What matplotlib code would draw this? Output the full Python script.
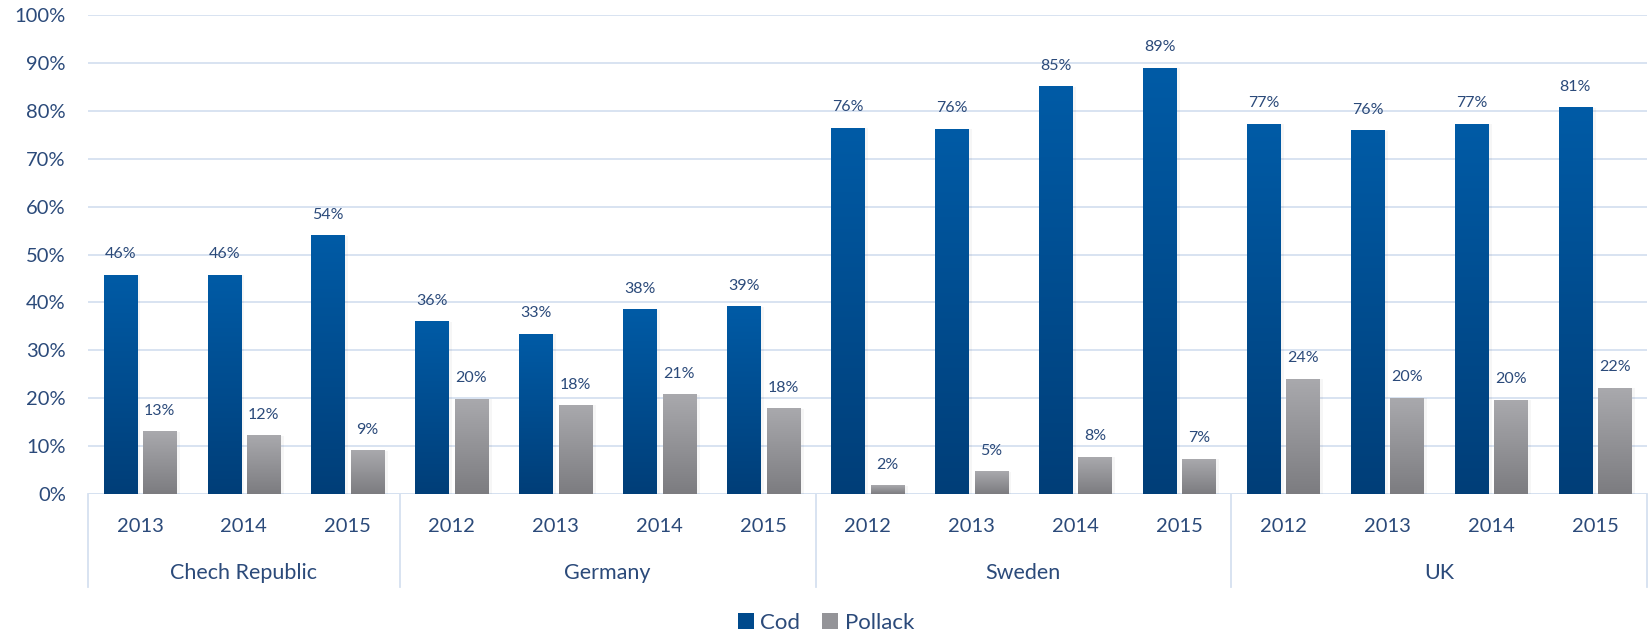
import numpy as np
import matplotlib
matplotlib.use('Agg')
import matplotlib.pyplot as plt
from matplotlib.colors import LinearSegmentedColormap
from matplotlib.patches import Patch
import matplotlib.transforms as mtransforms

# data
countries = ['Chech Republic', 'Germany', 'Sweden', 'UK']
years = [['2013', '2014', '2015'],
         ['2012', '2013', '2014', '2015'],
         ['2012', '2013', '2014', '2015'],
         ['2012', '2013', '2014', '2015']]
cod = [45.7, 45.7, 53.9,
       36.0, 33.4, 38.5, 39.1,
       76.4, 76.2, 85.0, 88.9,
       77.2, 75.8, 77.2, 80.6]
pollack = [13.0, 12.2, 9.0,
           19.8, 18.5, 20.7, 17.8,
           1.7, 4.6, 7.7, 7.3,
           24.0, 20.0, 19.6, 22.1]

plt.rcParams['font.family'] = ['Lato', 'DejaVu Sans']
txt = '#2B4A7A'
grid_c = '#D6E1F0'

fig = plt.figure(figsize=(16.52, 6.35), dpi=100)
ax = fig.add_axes([88 / 1652, 1 - 494 / 635, (1647 - 88) / 1652, 479 / 635])

cod_cmap = LinearSegmentedColormap.from_list('cod', ['#003E78', '#005BA6'])
pol_cmap = LinearSegmentedColormap.from_list('pol', ['#7C7C80', '#A9A9AD'])
grad = np.linspace(0, 1, 256).reshape(-1, 1)

n = len(cod)
x = np.arange(n)
w = 0.32
off = 0.19

for i in range(n):
    for val, dx, cmap in [(cod[i], -off, cod_cmap), (pollack[i], off, pol_cmap)]:
        x0 = x[i] + dx - w / 2
        # faint shadow on the right side
        ax.fill_between([x0 + w, x0 + w + 0.035], 0, val, color='#000000',
                        alpha=0.035, lw=0, zorder=2)
        ax.imshow(grad, extent=[x0, x0 + w, 0, val], origin='lower',
                  aspect='auto', cmap=cmap, zorder=3, interpolation='bilinear')
        ax.annotate(f'{val:.0f}%', (x[i] + dx, val), xytext=(0, 15),
                    textcoords='offset points', ha='center', va='center',
                    fontsize=11.5, color=txt)

ax.set_xlim(-0.5, n - 0.5)
ax.set_ylim(0, 100)
ax.set_yticks(np.arange(0, 101, 10))
ax.set_yticklabels([f'{v}%' for v in range(0, 101, 10)])
ax.tick_params(axis='y', length=0, pad=16, labelsize=14.5, labelcolor=txt)
ax.set_xticks([])
ax.grid(axis='y', color=grid_c, lw=1.3)
ax.set_axisbelow(True)
for s in ax.spines.values():
    s.set_visible(False)
ax.axhline(0, color=grid_c, lw=1.3, zorder=1)

# two level category axis
trans = mtransforms.blended_transform_factory(ax.transData, ax.transAxes)
flat_years = [y for grp in years for y in grp]
for i, y in enumerate(flat_years):
    ax.text(x[i], -0.067, y, transform=trans, ha='center', va='center',
            fontsize=14.5, color=txt)
start = 0
bounds = [-0.5]
for c, grp in zip(countries, years):
    end = start + len(grp)
    ax.text((start + end - 1) / 2, -0.165, c, transform=trans, ha='center',
            va='center', fontsize=15.5, color=txt)
    bounds.append(end - 0.5)
    start = end
for b in bounds:
    ax.plot([b, b], [0, -0.194], transform=trans, color=grid_c, lw=1.3,
            clip_on=False)

handles = [Patch(facecolor='#004A8C', label='Cod'),
           Patch(facecolor='#949498', label='Pollack')]
fig.legend(handles=handles, loc='center', bbox_to_anchor=(0.5, 1 - 623 / 635),
           ncol=2, frameon=False, fontsize=16, labelcolor=txt,
           handlelength=0.7, handleheight=0.7, handletextpad=0.3,
           columnspacing=1.0)

fig.savefig('out.png', dpi=100)
